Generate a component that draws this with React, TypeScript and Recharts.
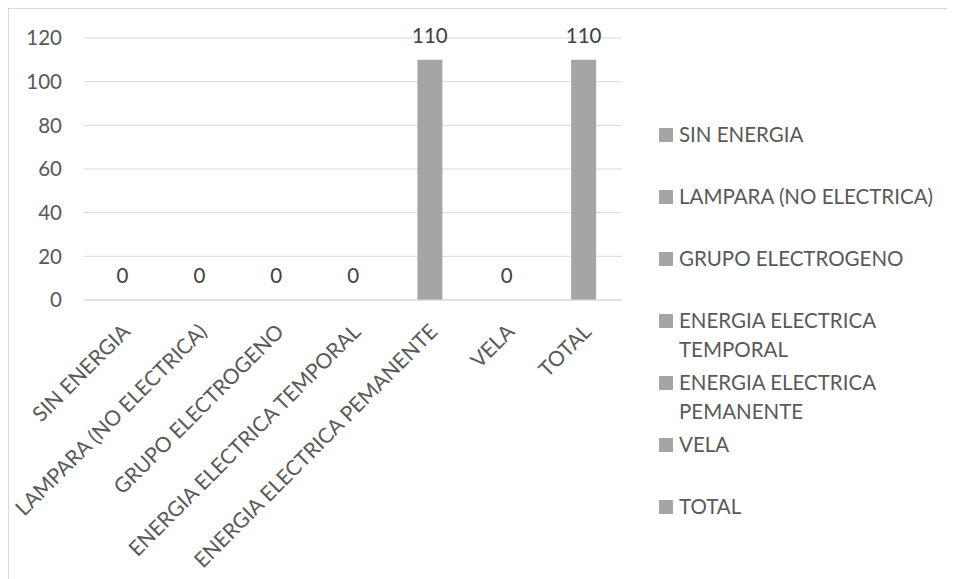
import React from 'react';
import { BarChart, Bar, XAxis, YAxis, CartesianGrid, Legend, LabelList } from 'recharts';

const categories = [
  'SIN ENERGIA',
  'LAMPARA (NO ELECTRICA)',
  'GRUPO ELECTROGENO',
  'ENERGIA ELECTRICA TEMPORAL',
  'ENERGIA ELECTRICA PEMANENTE',
  'VELA',
  'TOTAL',
];
const values = [0, 0, 0, 0, 110, 0, 110];
const yTicks = [0, 20, 40, 60, 80, 100, 120];

const data = categories.map((name, i) => ({ name, value: values[i] }));

const FONT = 'Lato, "Open Sans", sans-serif';
const BAR_COLOR = '#a5a5a5';
const TEXT_COLOR = '#595959';

const XTick = (props: any) => {
  const { x, y, payload } = props;
  const px = x + 3;
  const py = y + 27;
  return (
    <text
      x={px}
      y={py}
      transform={`rotate(-45, ${px}, ${py})`}
      textAnchor="end"
      dominantBaseline="central"
      fill={TEXT_COLOR}
      fontFamily={FONT}
      fontSize={21}
    >
      {payload.value}
    </text>
  );
};

const LegendContent = () => (
  <div style={{ fontFamily: FONT, fontSize: 20.5, color: TEXT_COLOR }}>
    {categories.map((c) => (
      <div key={c} style={{ height: 62, display: 'flex', alignItems: 'flex-start' }}>
        <div
          style={{
            width: 14,
            height: 14,
            background: BAR_COLOR,
            marginTop: 8,
            marginRight: 6,
            flex: '0 0 auto',
          }}
        />
        <div style={{ width: 266, lineHeight: '29px' }}>{c}</div>
      </div>
    ))}
  </div>
);

export default function App() {
  return (
    <div
      style={{
        width: 946,
        height: 570,
        borderTop: '1px solid #d9d9d9',
        borderLeft: '1px solid #d9d9d9',
        background: '#fff',
      }}
    >
      <BarChart
        width={946}
        height={570}
        data={data}
        margin={{ top: 29, right: 333, bottom: 0, left: 0 }}
      >
        <CartesianGrid vertical={false} stroke="#d9d9d9" strokeWidth={1} />
        <XAxis
          dataKey="name"
          height={279}
          interval={0}
          tickLine={false}
          tickSize={0}
          tickMargin={0}
          axisLine={{ stroke: '#d9d9d9' }}
          tick={<XTick />}
        />
        <YAxis
          width={75}
          domain={[0, 120]}
          ticks={yTicks}
          axisLine={false}
          tickLine={false}
          tickSize={0}
          tickMargin={22}
          tick={{ fill: TEXT_COLOR, fontFamily: FONT, fontSize: 20.5 }}
        />
        <Legend
          layout="vertical"
          align="center"
          verticalAlign="middle"
          wrapperStyle={{ left: 650, top: 111, width: 290 }}
          content={<LegendContent />}
        />
        <Bar
          dataKey="value"
          fill={BAR_COLOR}
          barSize={25}
          minPointSize={0.01}
          isAnimationActive={false}
        >
          <LabelList
            dataKey="value"
            position="top"
            offset={17}
            fill="#404040"
            fontFamily={FONT}
            fontSize={20.5}
          />
        </Bar>
      </BarChart>
    </div>
  );
}
